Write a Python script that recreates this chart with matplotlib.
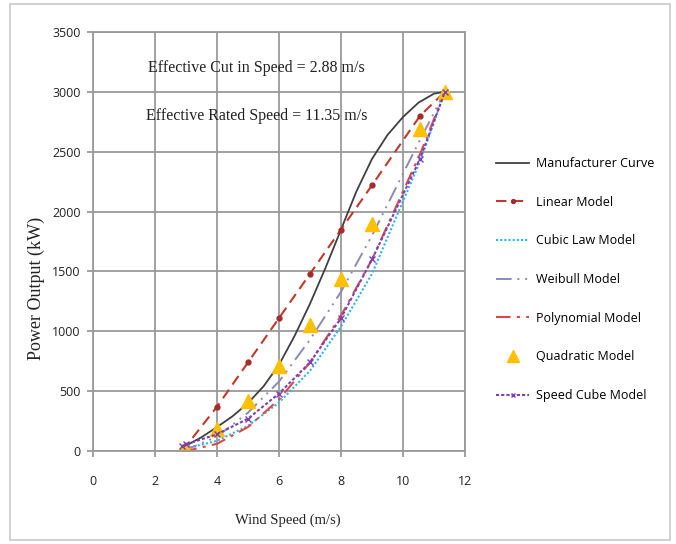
import matplotlib
matplotlib.use("Agg")
import matplotlib.pyplot as plt
from matplotlib.patches import Rectangle

# manufacturer power curve
v_mfr = [3.0, 3.5, 4.0, 4.5, 5.0, 5.5, 6.0, 6.5, 7.0, 7.5, 8.0, 8.5,
         9.0, 9.5, 10.0, 10.5, 11.0, 11.35]
p_mfr = [45, 115, 200, 290, 400, 540, 720, 960, 1230, 1530, 1850, 2170,
         2440, 2640, 2790, 2910, 2985, 3000]

# model points
v_mod = [2.88, 3.0, 4.0, 5.0, 6.0, 7.0, 8.0, 9.0, 10.55, 11.35]
p_linear = [0, 40, 370, 740, 1110, 1480, 1850, 2220, 2800, 3000]
p_cubic = [0, 21, 85, 210, 405, 670, 1040, 1480, 2420, 3000]
p_weibull = [0, 10, 120, 320, 580, 930, 1330, 1800, 2600, 3000]
p_poly = [0, 0, 60, 200, 430, 740, 1130, 1600, 2480, 3000]
p_quad = [0, 15, 180, 420, 710, 1050, 1440, 1900, 2690, 3000]
p_cube = [40, 55, 140, 270, 480, 740, 1110, 1600, 2440, 3000]

xticks = [0, 2, 4, 6, 8, 10, 12]
yticks = [0, 500, 1000, 1500, 2000, 2500, 3000, 3500]

sans = ["Open Sans", "DejaVu Sans"]
serif = ["Liberation Serif", "DejaVu Serif"]

fig = plt.figure(figsize=(6.76, 5.44), dpi=100)
ax = fig.add_axes([93 / 676, 1 - 451 / 544, 372 / 676, 419 / 544])

ax.plot(v_mfr, p_mfr, color="#404040", lw=1.3, label="Manufacturer Curve")
ax.plot(v_mod, p_linear, color="#C0392B", lw=1.5, ls=(0, (5, 3)), marker="o",
        ms=3.5, mfc="#A52A2A", mec="#A52A2A", label="Linear Model")
ax.plot(v_mod, p_cubic, color="#2CB5E8", lw=1.5, ls=(0, (1, 1)),
        label="Cubic Law Model")
ax.plot(v_mod, p_weibull, color="#8A8AB8", lw=1.4, ls=(0, (8, 3, 1, 3, 1, 3)),
        label="Weibull Model")
ax.plot(v_mod, p_poly, color="#E04848", lw=1.5, ls=(0, (7, 3, 1.5, 3)),
        label="Polynomial Model")
ax.plot(v_mod, p_quad, ls="none", marker="^", ms=10, color="#FFC000",
        label="Quadratic Model")
ax.plot(v_mod, p_cube, color="#7B3FB8", lw=1.5, ls=(0, (1.5, 1)), marker="x",
        ms=4, mew=1, label="Speed Cube Model")

ax.set_xlim(0, 12)
ax.set_ylim(0, 3500)
ax.set_xticks(xticks)
ax.set_yticks(yticks)
ax.grid(True, color="#9A9A9A", lw=1.3)
ax.set_axisbelow(True)
for s in ax.spines.values():
    s.set_color("#9A9A9A")
    s.set_linewidth(1.3)
ax.tick_params(colors="#9A9A9A", length=4, width=1.3, labelcolor="#222222",
               labelsize=9)
for lab in ax.get_xticklabels() + ax.get_yticklabels():
    lab.set_family(sans)
ax.tick_params(axis="x", pad=13)
ax.tick_params(axis="y", pad=5)

ax.text(0.44, 0.915, "Effective Cut in Speed = 2.88 m/s", transform=ax.transAxes,
        ha="center", va="center", fontsize=11.5, family=serif, color="#222222")
ax.text(0.44, 0.80, "Effective Rated Speed = 11.35 m/s", transform=ax.transAxes,
        ha="center", va="center", fontsize=11.5, family=serif, color="#222222")

fig.text(288 / 676, 1 - 520 / 544, "Wind Speed (m/s)", ha="center", va="center",
         fontsize=10.5, family=serif, color="#222222")
fig.text(36 / 676, 1 - 288 / 544, "Power Output (kW)", ha="center", va="center",
         rotation=90, fontsize=13, family=serif, color="#222222")

leg = fig.legend(loc="upper left", bbox_to_anchor=(485 / 676, 1 - 146 / 544),
                 frameon=False, labelspacing=2.05, markerscale=0.8,
                 handlelength=2.6, handletextpad=0.6,
                 prop={"family": sans, "size": 9})

fig.patches.append(Rectangle((10 / 676, 4 / 544), 660 / 676, 536 / 544,
                             transform=fig.transFigure, fill=False,
                             edgecolor="#C8C8C8", lw=1.2))

fig.savefig("out.png", dpi=100)
